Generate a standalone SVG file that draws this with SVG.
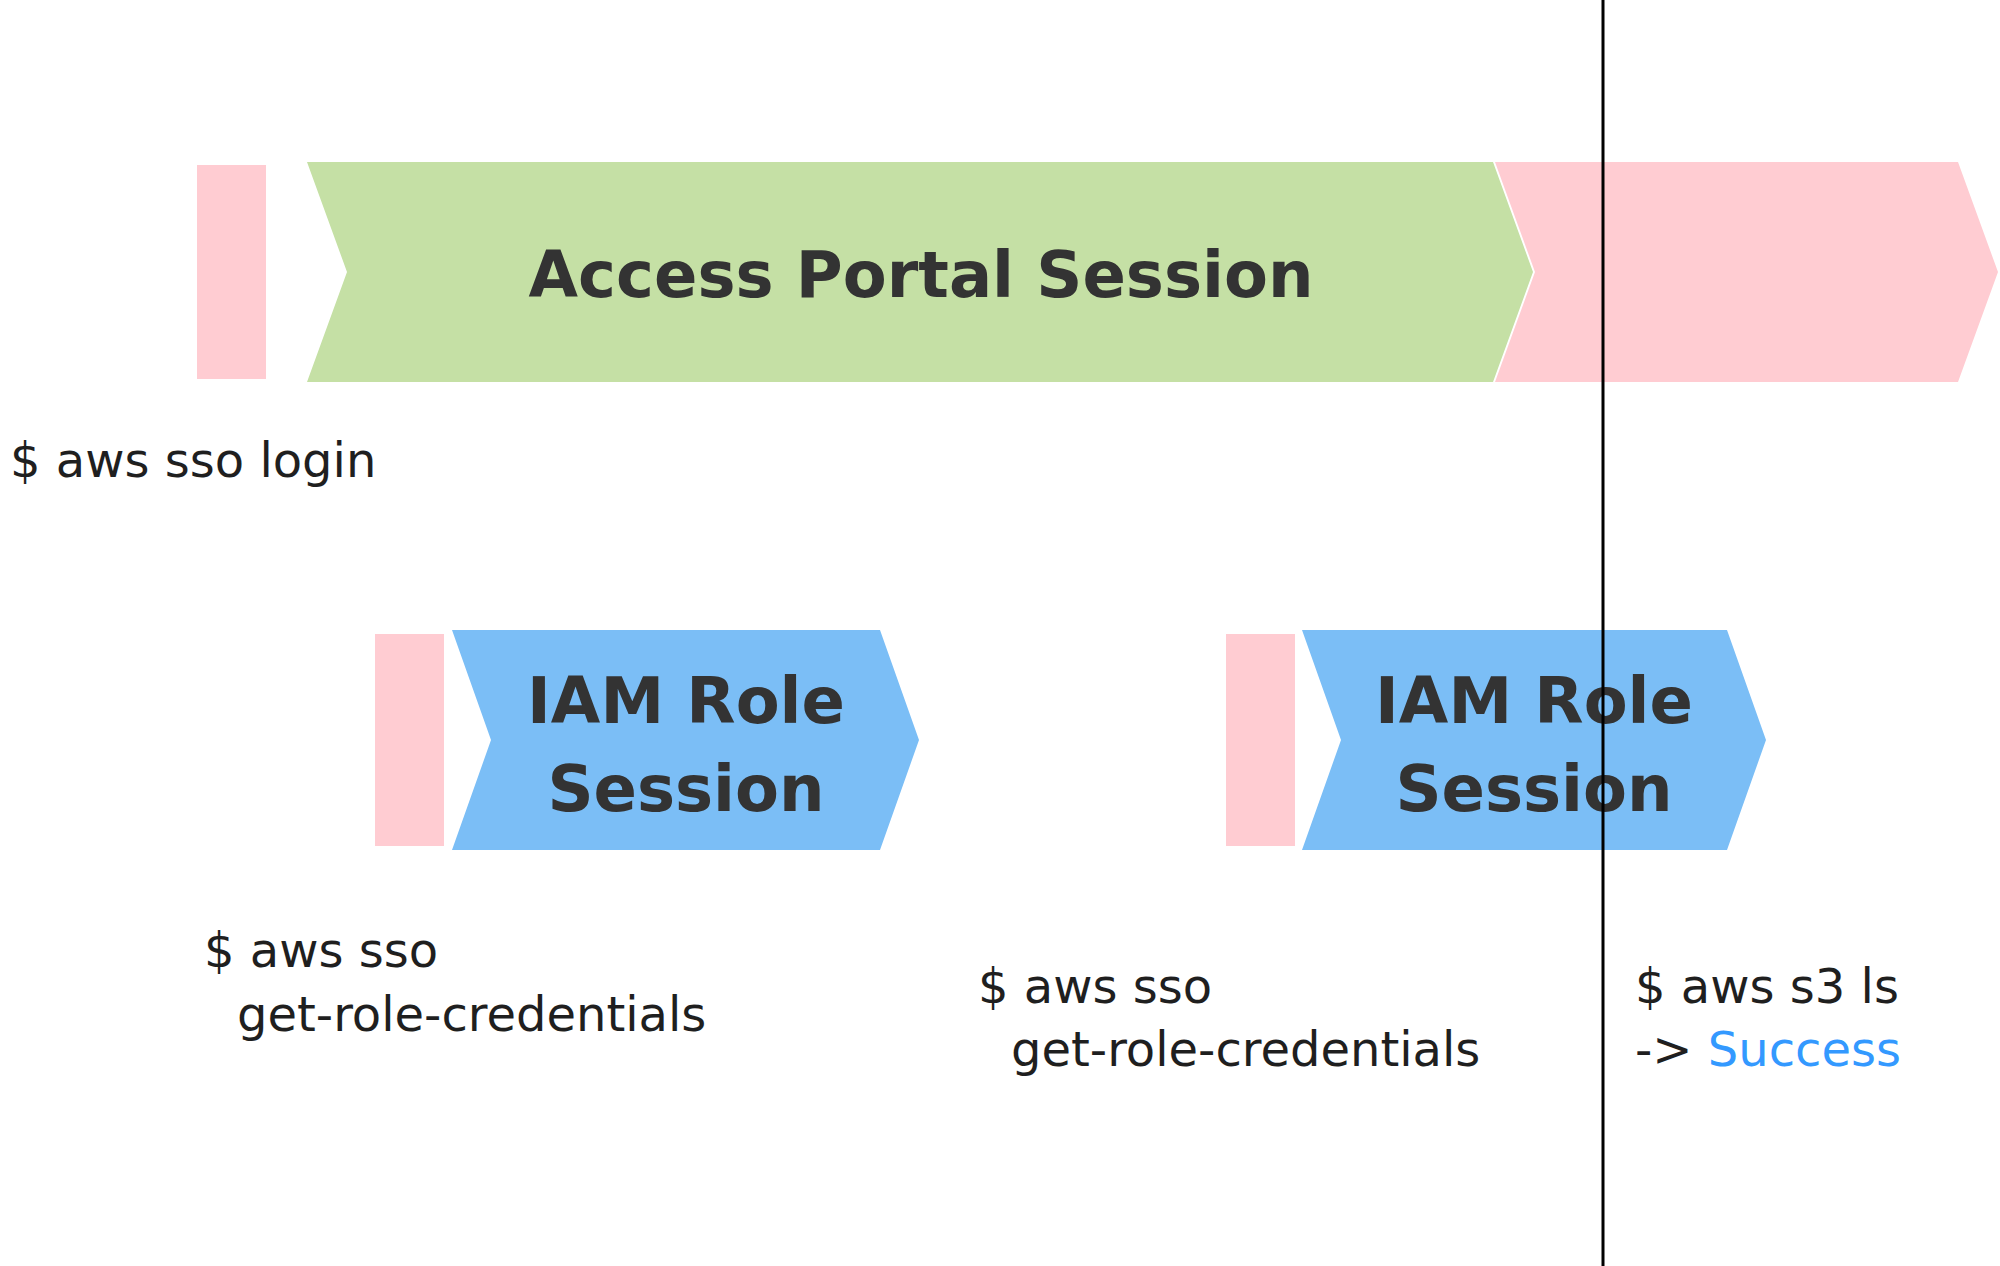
<svg xmlns="http://www.w3.org/2000/svg" width="2000" height="1266" viewBox="0 0 2000 1266">
<style>
.pink{fill:#FFCCD2}
.green{fill:#C5E0A5}
.blue{fill:#7BBEF6}
.title{font-family:"DejaVu Sans",Verdana,sans-serif;font-weight:bold;font-size:64px;fill:#333333;text-anchor:middle}
.lbl{font-family:"DejaVu Sans",Verdana,sans-serif;font-size:48px;fill:#1f1f1f}
.ok{fill:#3399FF}
</style>
<rect width="2000" height="1266" fill="#ffffff"/>
<g id="login-marker"><rect class="pink" x="197" y="165" width="69" height="214"/></g>
<g id="access-portal-session">
<polygon class="green" points="307,162 1493,162 1533,272 1493,382 307,382 347,272"/>
<text class="title" x="921" y="297">Access Portal Session</text>
</g>
<g id="access-portal-expired"><polygon class="pink" points="1495,162 1958,162 1998,272 1958,382 1495,382 1535,272"/></g>
<g id="role-marker-1"><rect class="pink" x="375" y="634" width="69" height="212"/></g>
<g id="iam-role-session-1">
<polygon class="blue" points="452,630 880,630 919,740 880,850 452,850 491,740"/>
<text class="title" x="686" y="723">IAM Role</text>
<text class="title" x="686" y="811">Session</text>
</g>
<g id="role-marker-2"><rect class="pink" x="1226" y="634" width="69" height="212"/></g>
<g id="iam-role-session-2">
<polygon class="blue" points="1302,630 1727,630 1766,740 1727,850 1302,850 1341,740"/>
<text class="title" x="1534" y="723">IAM Role</text>
<text class="title" x="1534" y="811">Session</text>
</g>
<g id="label-login"><text class="lbl" x="10" y="477">$ aws sso login</text></g>
<g id="label-get-role-1">
<text class="lbl" x="204" y="967">$ aws sso</text>
<text class="lbl" x="237" y="1031">get-role-credentials</text>
</g>
<g id="label-get-role-2">
<text class="lbl" x="978" y="1003">$ aws sso</text>
<text class="lbl" x="1011" y="1066">get-role-credentials</text>
</g>
<g id="label-s3">
<text class="lbl" x="1635" y="1003">$ aws s3 ls</text>
<text class="lbl" x="1635" y="1066">-&gt; <tspan class="ok">Success</tspan></text>
</g>
<g id="connectors">
<line x1="1603" y1="0" x2="1603" y2="1266" stroke="#000000" stroke-width="3"/>
</g>
</svg>
